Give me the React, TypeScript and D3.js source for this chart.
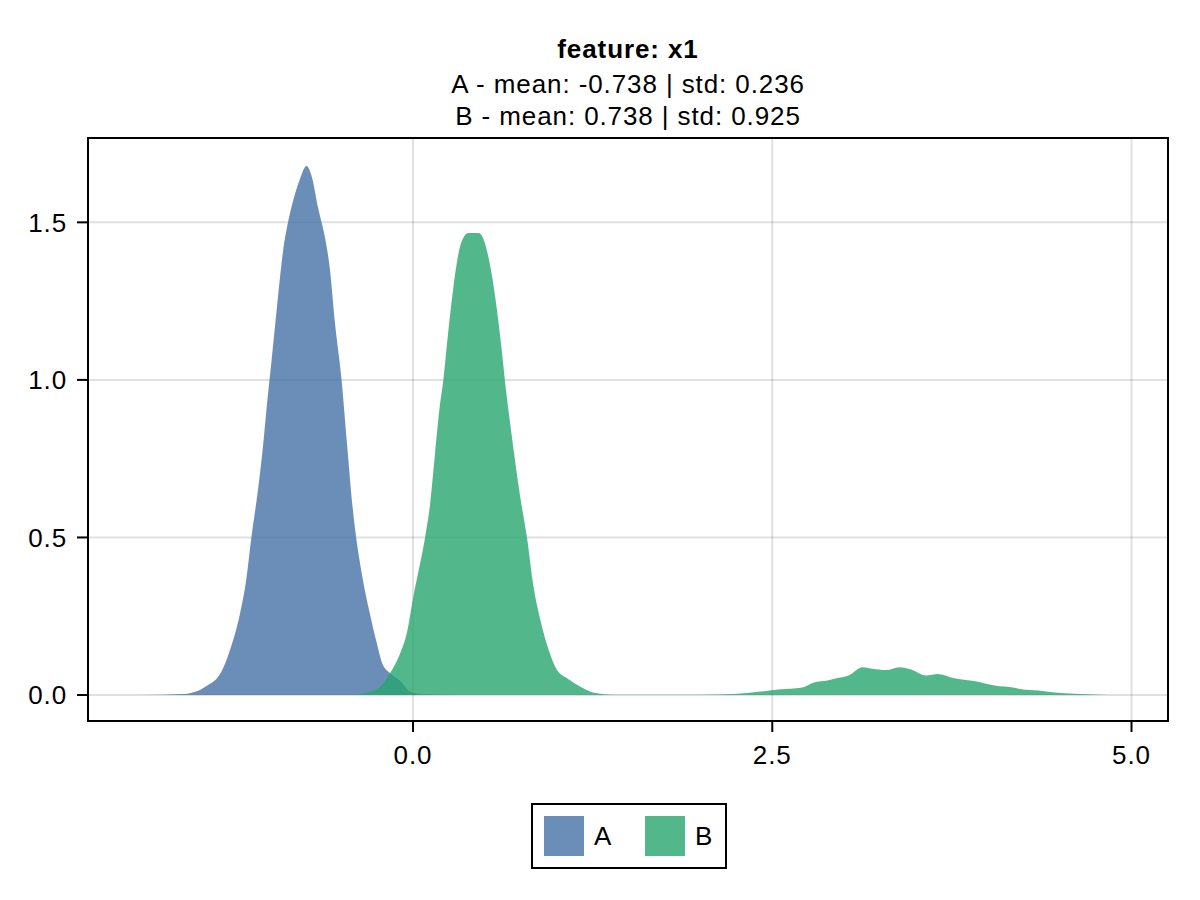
import { useEffect, useRef } from 'react'
import * as d3 from 'd3'

// groups and colours
const groups = ['A', 'B']
const groupColors = ['rgb(70,114,166)', 'rgb(39,166,111)']

// density estimate of group A (x, density)
const xA = [-1.9, -1.6, -1.44, -1.334, -1.276, -1.206, -1.16, -1.125, -1.079, -1.044, -1.015, -0.985, -0.95, -0.904, -0.87, -0.835, -0.788, -0.741, -0.706, -0.66, -0.614, -0.579, -0.544, -0.497, -0.46, -0.42, -0.35, -0.304, -0.255, -0.21, -0.16, -0.09, -0.021, 0.07, 0.3]
const densityA = [0, 0.003, 0.028, 0.074, 0.14, 0.255, 0.368, 0.5, 0.651, 0.79, 0.93, 1.06, 1.217, 1.41, 1.5, 1.568, 1.636, 1.679, 1.647, 1.545, 1.455, 1.353, 1.183, 0.998, 0.8, 0.594, 0.368, 0.266, 0.17, 0.096, 0.07, 0.045, 0.011, 0.002, 0]

// density estimate of group B
const xB = [-0.44, -0.323, -0.23, -0.16, -0.09, -0.044, 0.002, 0.049, 0.084, 0.119, 0.153, 0.188, 0.211, 0.246, 0.281, 0.316, 0.351, 0.386, 0.455, 0.49, 0.525, 0.572, 0.607, 0.653, 0.688, 0.746, 0.793, 0.839, 0.886, 0.944, 1.002, 1.072, 1.165, 1.258, 1.397, 1.7, 2.0, 2.234, 2.42, 2.56, 2.7, 2.79, 2.884, 2.954, 3.035, 3.128, 3.198, 3.291, 3.384, 3.466, 3.57, 3.652, 3.768, 3.931, 4.047, 4.186, 4.233, 4.35, 4.466, 4.605, 4.79, 4.9]
const densityB = [0, 0.007, 0.026, 0.069, 0.132, 0.195, 0.312, 0.417, 0.5, 0.607, 0.766, 0.924, 1.0, 1.157, 1.294, 1.4, 1.452, 1.466, 1.466, 1.447, 1.389, 1.262, 1.136, 0.945, 0.819, 0.628, 0.5, 0.343, 0.238, 0.143, 0.079, 0.053, 0.026, 0.007, 0.001, 0.0005, 0.001, 0.003, 0.011, 0.018, 0.023, 0.04, 0.046, 0.054, 0.063, 0.088, 0.083, 0.079, 0.088, 0.081, 0.062, 0.067, 0.053, 0.042, 0.03, 0.023, 0.018, 0.014, 0.008, 0.004, 0.001, 0]

const xTicks = [0, 2.5, 5]
const yTicks = [0, 0.5, 1, 1.5]

const titleText = 'feature: x1'
const subtitleLines = ['A - mean: -0.738 | std: 0.236', 'B - mean: 0.738 | std: 0.925']

const WIDTH = 1200
const HEIGHT = 900
const FONT = '"Liberation Sans", Arial, sans-serif'

// shared text style, a bit wider than Liberation Sans by default
function textStyle(sel: d3.Selection<SVGTextElement, unknown, null, undefined>) {
  return sel
    .style('font-family', FONT)
    .style('font-size', '26px')
    .style('letter-spacing', '0.9px')
}

export default function App() {
  const svgRef = useRef<SVGSVGElement>(null)

  useEffect(() => {
    if (!svgRef.current) return
    document.body.style.margin = '0'

    const svg = d3.select(svgRef.current)
    svg.selectAll('*').remove()

    const plot = { left: 88, right: 1168, top: 138, bottom: 721 }

    const x = d3.scaleLinear().domain([-2.262, 5.254]).range([plot.left, plot.right])
    const y = d3.scaleLinear().domain([-0.0825, 1.7677]).range([plot.bottom, plot.top])

    // grid
    const grid = svg.append('g')
    grid.selectAll('.gx')
      .data(xTicks)
      .enter()
      .append('line')
      .attr('x1', d => x(d))
      .attr('x2', d => x(d))
      .attr('y1', plot.top)
      .attr('y2', plot.bottom)
      .attr('stroke', 'rgba(0,0,0,0.12)')
      .attr('stroke-width', 2)
    grid.selectAll('.gy')
      .data(yTicks)
      .enter()
      .append('line')
      .attr('x1', plot.left)
      .attr('x2', plot.right)
      .attr('y1', d => y(d))
      .attr('y2', d => y(d))
      .attr('stroke', 'rgba(0,0,0,0.12)')
      .attr('stroke-width', 2)

    // densities
    const series = [
      xA.map((v, i) => [v, densityA[i]] as [number, number]),
      xB.map((v, i) => [v, densityB[i]] as [number, number])
    ]
    const area = d3.area<[number, number]>()
      .x(d => x(d[0]))
      .y0(y(0))
      .y1(d => y(d[1]))
      .curve(d3.curveMonotoneX)

    series.forEach((s, i) => {
      svg.append('path')
        .attr('d', area(s) as string)
        .attr('fill', groupColors[i])
        .attr('fill-opacity', 0.8)
    })

    // frame
    svg.append('rect')
      .attr('x', plot.left)
      .attr('y', plot.top)
      .attr('width', plot.right - plot.left)
      .attr('height', plot.bottom - plot.top)
      .attr('fill', 'none')
      .attr('stroke', '#000')
      .attr('stroke-width', 2)

    // x axis
    const xAxis = svg.append('g')
    xTicks.forEach(t => {
      xAxis.append('line')
        .attr('x1', x(t)).attr('x2', x(t))
        .attr('y1', plot.bottom).attr('y2', plot.bottom + 11)
        .attr('stroke', '#000').attr('stroke-width', 2)
      xAxis.append('text')
        .attr('x', x(t))
        .attr('y', plot.bottom + 43)
        .attr('text-anchor', 'middle')
        .call(textStyle)
        .text(d3.format('.1f')(t))
    })

    // y axis
    const yAxis = svg.append('g')
    yTicks.forEach(t => {
      yAxis.append('line')
        .attr('x1', plot.left - 11).attr('x2', plot.left)
        .attr('y1', y(t)).attr('y2', y(t))
        .attr('stroke', '#000').attr('stroke-width', 2)
      yAxis.append('text')
        .attr('x', plot.left - 21)
        .attr('y', y(t))
        .attr('dy', '0.36em')
        .attr('text-anchor', 'end')
        .call(textStyle)
        .text(d3.format('.1f')(t))
    })

    // title
    const cx = (plot.left + plot.right) / 2
    svg.append('text')
      .attr('x', cx)
      .attr('y', 58)
      .attr('text-anchor', 'middle')
      .call(textStyle)
      .style('font-weight', 'bold')
      .text(titleText)
    subtitleLines.forEach((line, i) => {
      svg.append('text')
        .attr('x', cx)
        .attr('y', 93 + i * 32)
        .attr('text-anchor', 'middle')
        .call(textStyle)
        .text(line)
    })

    // legend
    const legend = svg.append('g')
    legend.append('rect')
      .attr('x', 532)
      .attr('y', 804)
      .attr('width', 194)
      .attr('height', 64)
      .attr('fill', 'none')
      .attr('stroke', '#000')
      .attr('stroke-width', 2)
    groups.forEach((g, i) => {
      const lx = 544 + i * 101
      legend.append('rect')
        .attr('x', lx)
        .attr('y', 816)
        .attr('width', 40)
        .attr('height', 40)
        .attr('fill', groupColors[i])
        .attr('fill-opacity', 0.8)
      legend.append('text')
        .attr('x', lx + 50)
        .attr('y', 845)
        .call(textStyle)
        .text(g)
    })
  }, [])

  return <svg ref={svgRef} width={WIDTH} height={HEIGHT} style={{ display: 'block', background: '#fff' }} />
}
